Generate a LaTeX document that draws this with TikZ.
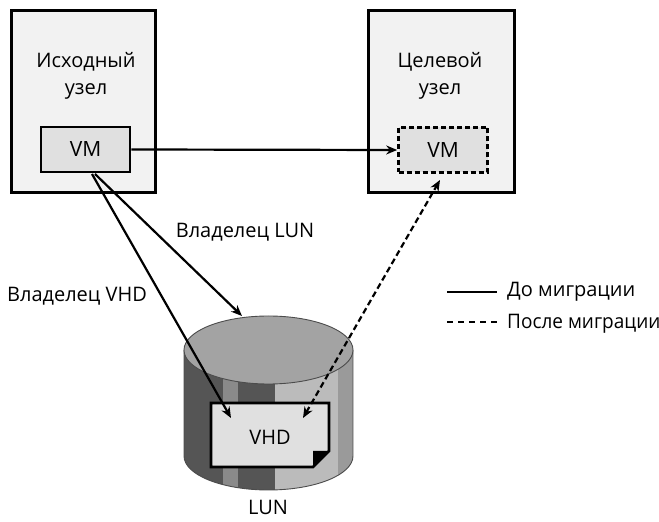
\documentclass[tikz,border=0pt]{standalone}
\usepackage{fontspec}
\setmainfont{Open Sans}
\newfontfamily\narrowsans[FakeStretch=0.95]{Open Sans}
\usetikzlibrary{arrows.meta}
\definecolor{hostfill}{HTML}{F2F2F2}
\definecolor{vmfill}{HTML}{E0E0E0}
\definecolor{cyltop}{HTML}{A3A3A3}
\definecolor{stripeA}{HTML}{555555}
\definecolor{stripeB}{HTML}{8A8A8A}
\definecolor{stripeC}{HTML}{BBBBBB}
\definecolor{stripeD}{HTML}{9A9A9A}
\tikzset{
  host/.style={draw=black, line width=3pt, fill=hostfill},
  vmbox/.style={draw=black, line width=2.8pt, fill=vmfill, minimum width=89pt, minimum height=45pt, inner sep=0pt, font=\fontsize{21}{24}\selectfont},
  lbl/.style={font=\fontsize{20}{24}\selectfont, inner sep=0pt},
  conn/.style={line width=2.2pt, -{Stealth[length=11pt,width=9pt]}},
  connafter/.style={line width=2.2pt, {Stealth[length=11pt,width=9pt]}-{Stealth[length=11pt,width=9pt]}, dash pattern=on 6pt off 3.5pt},
}
\begin{document}
\begin{tikzpicture}[x=1pt,y=1pt]
\useasboundingbox (0,0) rectangle (659,522);

% source and target hosts
\draw[host] (11,511) rectangle (155,329);
\draw[host] (368,511) rectangle (514,329);
\node[lbl, anchor=base] (srcA) at (86,454) {Исходный};
\node[lbl, anchor=base] (srcB) at (86,427) {узел};
\node[lbl, anchor=base] (dstA) at (440,454) {Целевой};
\node[lbl, anchor=base] (dstB) at (440,427) {узел};

% virtual machines
\node[vmbox] (vmL) at (85.5,372.5) {VM};
\node[vmbox, dash pattern=on 5pt off 3pt, line width=2.6pt] (vmR) at (443,372) {VM};

% LUN cylinder
\begin{scope}
  \clip (184,172) -- (184,66) arc[start angle=180, end angle=360, x radius=84.5, y radius=34] -- (353,172) -- cycle;
  \fill[stripeA] (184,20) rectangle (223,180);
  \fill[stripeB] (223,20) rectangle (238,180);
  \fill[stripeA] (238,20) rectangle (275,180);
  \fill[stripeC] (275,20) rectangle (338,180);
  \fill[stripeD] (338,20) rectangle (353,180);
\end{scope}
\draw[line width=0.9pt, draw=black!70] (184,172) -- (184,66) arc[start angle=180, end angle=360, x radius=84.5, y radius=34] -- (353,172);
\draw[line width=0.9pt, draw=black!70, fill=cyltop] (268.5,172) ellipse[x radius=84.5, y radius=34];
\coordinate (lunTop) at (242,206);
\node[lbl] (lun) at (268,15) {LUN};

% VHD file on the LUN
\draw[line width=2.8pt, fill=vmfill, line join=miter]
  (211,119) -- (329,119) -- (329,71) -- (313,55) -- (211,55) -- cycle;
\fill[black] (313,71) -- (329,71) -- (313,55) -- cycle;
\node[lbl] (vhd) at (270,85) {VHD};
\coordinate (vhdL) at (231,104);
\coordinate (vhdR) at (303,104);

% ownership and migration connectors
\coordinate (vmLa) at (92,348);
\coordinate (vmLb) at (95,348);
\coordinate (vmRb) at (440,342);
\draw[conn] (vmL.east) -- (vmR.west);
\draw[conn] (vmLb) -- (lunTop);
\draw[conn] (vmLa) -- (vhdL);
\draw[connafter] (vhdR) -- (vmRb);
\node[lbl] (ownLun) at (245,290) {Владелец LUN};
\node[lbl] (ownVhd) at (77,226) {Владелец VHD};

% legend
\coordinate (legA1) at (447,230);
\coordinate (legA2) at (497,230);
\coordinate (legB1) at (447,200);
\coordinate (legB2) at (497,200);
\draw[line width=2.2pt] (legA1) -- (legA2);
\draw[line width=2.2pt, dash pattern=on 6pt off 5pt] (legB1) -- (legB2);
\node[lbl, anchor=west] (legA) at (507,230) {До миграции};
\node[lbl, anchor=west, font=\fontsize{20}{24}\narrowsans] (legB) at (507,198) {После миграции};
\end{tikzpicture}
\end{document}
